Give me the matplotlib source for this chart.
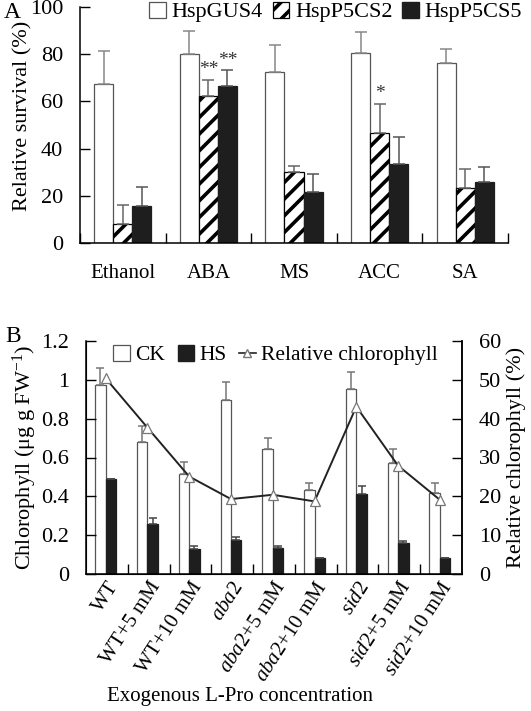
import matplotlib
matplotlib.use("Agg")
import matplotlib.pyplot as plt
import numpy as np
from matplotlib.lines import Line2D
from matplotlib.patches import Patch

plt.rcParams['font.family'] = ['Liberation Serif', 'DejaVu Serif']
plt.rcParams['mathtext.fontset'] = 'custom'
plt.rcParams['mathtext.rm'] = 'Liberation Serif'
plt.rcParams['mathtext.it'] = 'Liberation Serif:italic'
plt.rcParams['hatch.linewidth'] = 2.6

# ---------- Panel A data ----------
treatments = ["Ethanol", "ABA", "MS", "ACC", "SA"]
gus4 = [67.3, 80.0, 72.4, 80.7, 76.3]
gus4_err = [14.1, 10.0, 11.6, 8.8, 6.0]
p5cs2 = [8.2, 62.5, 30.0, 46.6, 23.4]
p5cs2_err = [7.9, 6.6, 2.6, 12.3, 8.0]
p5cs5 = [15.7, 66.7, 21.7, 33.3, 25.8]
p5cs5_err = [8.0, 6.4, 7.6, 11.7, 6.4]
stars_p5cs2 = ["", "**", "", "*", ""]
stars_p5cs5 = ["", "**", "", "", ""]

# ---------- Panel B data ----------
genotypes = ["WT", "WT+5 mM", "WT+10 mM", "$\\mathit{aba2}$", "$\\mathit{aba2}$+5 mM",
             "$\\mathit{aba2}$+10 mM", "$\\mathit{sid2}$", "$\\mathit{sid2}$+5 mM", "$\\mathit{sid2}$+10 mM"]
ck = [0.971, 0.682, 0.514, 0.894, 0.643, 0.432, 0.952, 0.571, 0.415]
ck_err = [0.092, 0.078, 0.062, 0.097, 0.057, 0.036, 0.086, 0.075, 0.053]
hs = [0.488, 0.259, 0.130, 0.176, 0.135, 0.082, 0.413, 0.160, 0.082]
hs_err = [0.003, 0.028, 0.015, 0.012, 0.010, 0.002, 0.041, 0.008, 0.002]
rel_chl = [50.4, 37.7, 25.1, 19.3, 20.4, 18.7, 43.1, 27.9, 19.1]

W, H = 531, 711
fig = plt.figure(figsize=(W / 100, H / 100), dpi=100)
FS = 15

# ---------------- Panel A ----------------
axA = fig.add_axes([80 / W, 1 - 243 / H, 428 / W, 236 / H])
x = np.arange(len(treatments))
bw = 0.222
ekw = dict(elinewidth=1.1, capthick=1.1)
axA.bar(x - bw, gus4, bw, color='white', edgecolor='#555555', linewidth=0.9)
axA.errorbar(x - bw, gus4, yerr=[np.zeros(len(x)), gus4_err], fmt='none',
             ecolor='#888888', capsize=4, **ekw)
axA.bar(x, p5cs2, bw, color='white', edgecolor='black', hatch='//', linewidth=0.9)
axA.errorbar(x, p5cs2, yerr=[np.zeros(len(x)), p5cs2_err], fmt='none',
             ecolor='#666666', capsize=4, **ekw)
axA.bar(x + bw, p5cs5, bw, color='#1e1e1e', edgecolor='#1e1e1e', linewidth=0.9)
axA.errorbar(x + bw, p5cs5, yerr=[np.zeros(len(x)), p5cs5_err], fmt='none',
             ecolor='#555555', capsize=4, **ekw)
for i in range(len(x)):
    if stars_p5cs2[i]:
        axA.text(x[i], p5cs2[i] + p5cs2_err[i] + 0.8, stars_p5cs2[i], ha='center',
                 va='bottom', fontsize=14, color='#333333')
    if stars_p5cs5[i]:
        axA.text(x[i] + bw, p5cs5[i] + p5cs5_err[i] + 0.8, stars_p5cs5[i], ha='center',
                 va='bottom', fontsize=14, color='#333333')
axA.set_xlim(-0.5, len(x) - 0.5)
axA.set_ylim(0, 100)
axA.set_yticks([0, 20, 40, 60, 80, 100])
axA.set_xticks(np.arange(len(x) + 1) - 0.5)
axA.set_xticklabels([])
axA.set_xticks(x, minor=True)
axA.set_xticklabels(treatments, minor=True, fontsize=FS)
axA.tick_params(axis='x', which='minor', length=0, pad=15)
axA.tick_params(axis='x', which='major', direction='in', length=7, width=1)
axA.tick_params(axis='y', direction='in', length=7, width=1, labelsize=FS + 1, pad=12)
axA.spines['top'].set_visible(False)
axA.spines['right'].set_visible(False)
for s in ['left', 'bottom']:
    axA.spines[s].set_linewidth(1.1)
axA.set_ylabel("Relative survival (%)", fontsize=FS + 1)
axA.yaxis.set_label_coords(-0.112, 0.54)
handlesA = [Patch(facecolor='white', edgecolor='#555555', linewidth=0.9),
            Patch(facecolor='white', edgecolor='black', hatch='//', linewidth=0.9),
            Patch(facecolor='#1e1e1e', edgecolor='#1e1e1e')]
fig.legend(handlesA, ["HspGUS4", "HspP5CS2", "HspP5CS5"], loc='center right',
           bbox_to_anchor=(1.0, 1 - 12 / H), ncol=3, frameon=False, fontsize=FS + 1,
           handlelength=0.75, handleheight=0.75, handletextpad=0.25, columnspacing=0.45,
           borderaxespad=0)
fig.text(4 / W, 1 - 13 / H, "A", fontsize=FS + 2, ha='left', va='center')

# ---------------- Panel B ----------------
axB = fig.add_axes([86 / W, 1 - 574 / H, 376 / W, 233 / H])
xb = np.arange(len(genotypes))
bw2 = 0.25
axB.bar(xb - bw2 / 2 - 0.03, ck, bw2, color='white', edgecolor='#555555', linewidth=0.9)
axB.errorbar(xb - bw2 / 2 - 0.03, ck, yerr=[np.zeros(len(xb)), ck_err], fmt='none',
             ecolor='#777777', capsize=3, **ekw)
axB.bar(xb + bw2 / 2 - 0.03, hs, bw2, color='#1e1e1e', edgecolor='#1e1e1e', linewidth=0.9)
axB.errorbar(xb + bw2 / 2 - 0.03, hs, yerr=[np.zeros(len(xb)), hs_err], fmt='none',
             ecolor='#444444', capsize=3, **ekw)
axB.set_xlim(-0.5, len(xb) - 0.5)
axB.set_ylim(0, 1.2)
axB.set_yticks([0, 0.2, 0.4, 0.6, 0.8, 1.0, 1.2])
axB.set_yticklabels(["0", "0.2", "0.4", "0.6", "0.8", "1", "1.2"])
axB.set_xticks(np.arange(1, len(xb)) - 0.5)
axB.set_xticklabels([])
axB.set_xticks(xb, minor=True)
axB.set_xticklabels(genotypes, minor=True, fontsize=FS, rotation=57,
                    ha='right', va='top', rotation_mode='anchor')
axB.tick_params(axis='x', which='minor', length=0, pad=3)
axB.tick_params(axis='x', which='major', direction='in', length=7, width=1)
axB.tick_params(axis='y', direction='in', length=7, width=1, labelsize=FS + 1, pad=12)
axB.spines['top'].set_visible(False)
for s in ['left', 'bottom', 'right']:
    axB.spines[s].set_linewidth(1.1)
axB.set_ylabel("Chlorophyll (μg g FW$^{-1}$)", fontsize=FS + 1, labelpad=2)
fig.text(240 / W, 1 - 697 / H, "Exogenous L-Pro concentration",
         fontsize=FS, ha='center', va='center')

axB2 = axB.twinx()
axB2.plot(xb - 0.03, rel_chl, color='#222222', linewidth=1.4, marker='^', markersize=7,
          markerfacecolor='white', markeredgecolor='#777777', markeredgewidth=0.9)
axB2.set_ylim(0, 60)
axB2.set_yticks([0, 10, 20, 30, 40, 50, 60])
axB2.tick_params(axis='y', direction='in', length=7, width=1, labelsize=FS + 1, pad=12)
axB2.spines['top'].set_visible(False)
axB2.spines['right'].set_linewidth(1.1)
axB2.set_ylabel("Relative chlorophyll (%)", fontsize=FS + 1, labelpad=4)

handlesB = [Patch(facecolor='white', edgecolor='#555555', linewidth=0.9),
            Patch(facecolor='#1e1e1e', edgecolor='#1e1e1e'),
            Line2D([], [], color='#222222', linewidth=1.2, marker='^', markersize=6,
                   markerfacecolor='white', markeredgecolor='#777777')]
axB.legend(handlesB, ["CK", "HS", "Relative chlorophyll"], loc='upper left',
           bbox_to_anchor=(0.05, 1.02), ncol=3, frameon=False, fontsize=FS + 0.5,
           handlelength=0.75, handleheight=0.75, handletextpad=0.25, columnspacing=0.6,
           borderaxespad=0)
fig.text(5 / W, 1 - 336 / H, "B", fontsize=FS + 2, ha='left', va='center')

fig.savefig("out.png", dpi=100)
